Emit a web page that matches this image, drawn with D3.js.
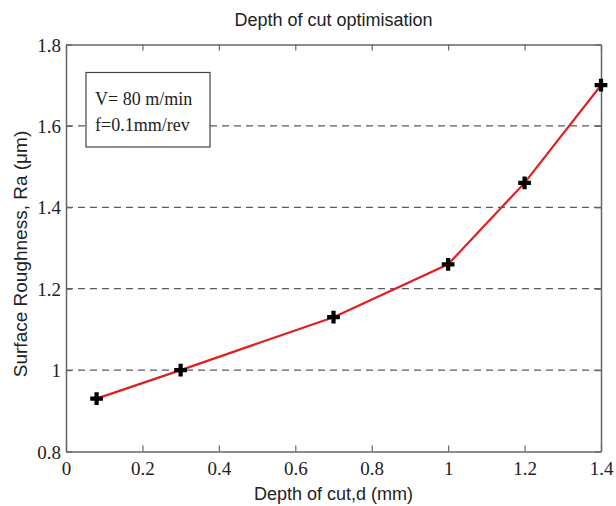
<!DOCTYPE html>
<html>
<head>
<meta charset="utf-8">
<script src="https://cdn.jsdelivr.net/npm/d3@7"></script>
<style>
  html, body { margin: 0; padding: 0; background: #fff; }
  svg { display: block; }
</style>
</head>
<body>
<svg id="chart" width="616" height="506"></svg>
<script>
// Depth of cut vs surface roughness
const depthOfCut = [0.08, 0.3, 0.7, 1.0, 1.2, 1.4];
const roughness = [0.93, 1.0, 1.13, 1.26, 1.46, 1.70];
const xTicks = [0, 0.2, 0.4, 0.6, 0.8, 1, 1.2, 1.4];
const yTicks = [0.8, 1, 1.2, 1.4, 1.6, 1.8];
const gridValues = [1, 1.2, 1.4, 1.6];
const noteLines = ["V= 80 m/min", "f=0.1mm/rev"];

const svg = d3.select("#chart");
const m = { left: 66, right: 601, top: 44.5, bottom: 451.5 };

const x = d3.scaleLinear().domain([0, 1.4]).range([m.left, m.right]);
const y = d3.scaleLinear().domain([0.8, 1.8]).range([m.bottom, m.top]);

const frameColor = "#666";
const serif = "'Liberation Serif', 'Times New Roman', serif";
const narrow = "'Liberation Sans Narrow', 'Arial Narrow', 'Liberation Sans', sans-serif";

// dashed horizontal grid
svg.append("g").selectAll("line").data(gridValues).join("line")
  .attr("x1", m.left).attr("x2", m.right)
  .attr("y1", d => y(d)).attr("y2", d => y(d))
  .attr("stroke", "#5a5a5a").attr("stroke-width", 1.3)
  .attr("stroke-dasharray", "7,5");

// axes with inward ticks
const bottomAxis = svg.append("g").attr("transform", `translate(0,${m.bottom})`)
  .call(d3.axisBottom(x).tickValues(xTicks).tickFormat(d3.format("~g")).tickSizeInner(-6).tickSizeOuter(0).tickPadding(6));
const topAxis = svg.append("g").attr("transform", `translate(0,${m.top})`)
  .call(d3.axisTop(x).tickValues(xTicks).tickFormat("").tickSizeInner(-6).tickSizeOuter(0));
const leftAxis = svg.append("g").attr("transform", `translate(${m.left},0)`)
  .call(d3.axisLeft(y).tickValues(yTicks).tickFormat(d3.format("~g")).tickSizeInner(-6).tickSizeOuter(0).tickPadding(5));
const rightAxis = svg.append("g").attr("transform", `translate(${m.right},0)`)
  .call(d3.axisRight(y).tickValues(yTicks).tickFormat("").tickSizeInner(-6).tickSizeOuter(0));

[bottomAxis, topAxis, leftAxis, rightAxis].forEach(g => {
  g.select(".domain").attr("stroke", frameColor).attr("stroke-width", 1.5);
  g.selectAll(".tick line").attr("stroke", frameColor).attr("stroke-width", 1.2);
  g.selectAll("text").attr("fill", "#222").style("font-family", serif).style("font-size", "19px");
});
bottomAxis.selectAll("text").attr("dy", "0.9em");
leftAxis.selectAll("text").attr("dy", "0.35em");

// note box
const box = svg.append("g");
box.append("rect").attr("x", 86).attr("y", 72.5).attr("width", 124).attr("height", 74.5)
  .attr("fill", "#fff").attr("stroke", "#444").attr("stroke-width", 1.2);
box.selectAll("text").data(noteLines).join("text")
  .attr("x", 95).attr("y", (d, i) => 105 + i * 26)
  .attr("fill", "#222").style("font-family", serif).style("font-size", "18px")
  .text(d => d);

// data line
svg.append("path")
  .datum(depthOfCut.map((d, i) => [d, roughness[i]]))
  .attr("fill", "none").attr("stroke", "#e02020").attr("stroke-width", 2.2)
  .attr("d", d3.line().x(d => x(d[0])).y(d => y(d[1])));

// plus markers
const sym = d3.symbol().type(d3.symbolCross).size(90);
svg.append("g").selectAll("path").data(depthOfCut.map((d, i) => [d, roughness[i]])).join("path")
  .attr("transform", d => `translate(${x(d[0])},${y(d[1])})`)
  .attr("d", sym).attr("fill", "#000");

// titles
svg.append("text").attr("x", (m.left + m.right) / 2).attr("y", 26)
  .attr("text-anchor", "middle").attr("fill", "#222")
  .style("font-family", narrow).style("font-size", "18px")
  .text("Depth of cut optimisation");
svg.append("text").attr("x", (m.left + m.right) / 2).attr("y", 500)
  .attr("text-anchor", "middle").attr("fill", "#222")
  .style("font-family", narrow).style("font-size", "18px")
  .text("Depth of cut,d (mm)");
svg.append("text")
  .attr("transform", "translate(27,254) rotate(-90)")
  .attr("text-anchor", "middle").attr("fill", "#222")
  .style("font-family", "'Liberation Sans', Arial, sans-serif").style("font-size", "19px")
  .text("Surface Roughness, Ra (μm)");
</script>
</body>
</html>
